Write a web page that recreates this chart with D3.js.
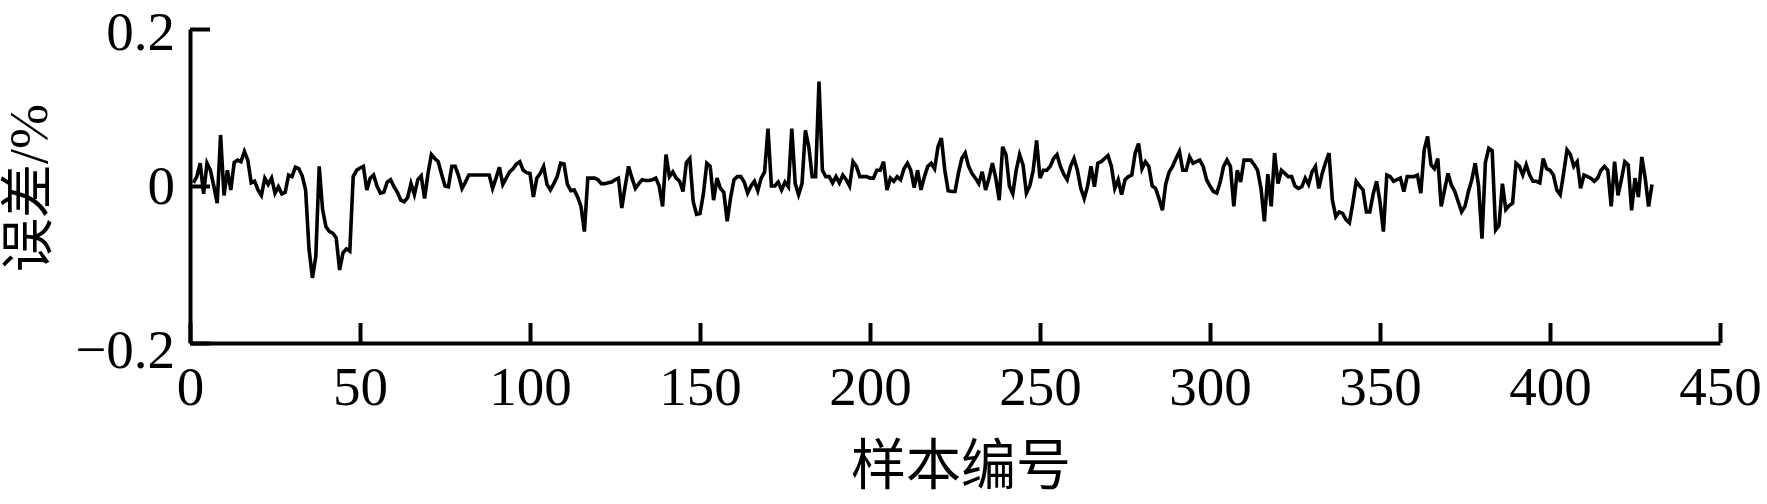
<!DOCTYPE html>
<html>
<head>
<meta charset="utf-8">
<script src="https://cdn.jsdelivr.net/npm/d3@7"></script>
<style>
  body { margin: 0; background: #fff; }
  svg { display: block; }
  .axis path, .axis line { stroke: #000; stroke-width: 4; }
  .axis text { font-family: "Liberation Serif", "Times New Roman", serif; font-size: 55px; fill: #000; }
  .title { font-family: "Liberation Serif", "Noto Sans CJK SC", serif; font-size: 54px; fill: #000; }
</style>
</head>
<body>
<svg id="chart"></svg>
<script>
// error (%) per sample, samples numbered 1..430
const errorValues = [
   0.004,  0.012,  0.029, -0.010,  0.029,  0.020,  0.000, -0.022,  0.065, -0.012,
   0.020, -0.005,  0.030,  0.033,  0.031,  0.044,  0.033,  0.004,  0.006, -0.005,
  -0.012,  0.010,  0.002,  0.010, -0.009, -0.001, -0.010, -0.008,  0.014,  0.012,
   0.024,  0.022,  0.013, -0.005, -0.080, -0.117, -0.090,  0.025, -0.030, -0.052,
  -0.058, -0.060, -0.066, -0.107, -0.085, -0.080, -0.083,  0.012,  0.020,  0.023,
   0.025, -0.005,  0.010,  0.014,  0.000, -0.009, -0.008,  0.005,  0.008, -0.001,
  -0.008, -0.018, -0.020, -0.015,  0.003, -0.011,  0.008,  0.013, -0.016,  0.016,
   0.040,  0.035,  0.031,  0.015,  0.000, -0.001,  0.025,  0.025,  0.013, -0.003,
   0.005,  0.014,  0.014,  0.014,  0.014,  0.014,  0.014,  0.014, -0.003,  0.010,
   0.024,  0.002,  0.010,  0.018,  0.022,  0.028,  0.031,  0.020,  0.017,  0.016,
  -0.014,  0.010,  0.016,  0.025,  0.002, -0.005,  0.003,  0.012,  0.029,  0.028,
   0.002, -0.006, -0.005, -0.014, -0.026, -0.058,  0.010,  0.010,  0.010,  0.008,
   0.003,  0.003,  0.004,  0.005,  0.008,  0.010, -0.028,  0.000,  0.025,  0.010,
  -0.003,  0.003,  0.008,  0.007,  0.007,  0.008,  0.010,  0.000, -0.026,  0.040,
   0.012,  0.018,  0.010,  0.006, -0.007,  0.030,  0.035, -0.020, -0.036, -0.035,
  -0.010,  0.029,  0.025, -0.018,  0.010, -0.003, -0.008, -0.045, -0.015,  0.008,
   0.012,  0.012,  0.005, -0.009,  0.000,  0.006, -0.006,  0.010,  0.018,  0.073,
   0.000,  0.000,  0.005, -0.005,  0.005, -0.001,  0.073,  0.003, -0.011,  0.003,
   0.071,  0.050,  0.012,  0.012,  0.133,  0.020,  0.012,  0.012,  0.004,  0.012,
   0.004,  0.014,  0.008,  0.000,  0.031,  0.025,  0.012,  0.012,  0.012,  0.010,
   0.010,  0.020,  0.020,  0.031, -0.005,  0.010,  0.006,  0.012,  0.008,  0.022,
   0.029,  0.020, -0.002,  0.020, -0.005,  0.012,  0.025,  0.029,  0.022,  0.050,
   0.061,  0.020, -0.006, -0.007, -0.007,  0.016,  0.035,  0.042,  0.025,  0.016,
   0.010,  0.003,  0.018, -0.005,  0.010,  0.029,  0.010, -0.018,  0.050,  0.040,
   0.000, -0.010,  0.020,  0.040,  0.027, -0.009,  0.000,  0.020,  0.058,  0.010,
   0.020,  0.020,  0.025,  0.035,  0.040,  0.025,  0.015,  0.008,  0.025,  0.035,
   0.020, -0.003, -0.016,  0.000,  0.025, -0.001,  0.029,  0.031,  0.035,  0.039,
   0.025, -0.003,  0.008, -0.011,  0.008,  0.012,  0.014,  0.042,  0.054,  0.022,
   0.031,  0.025,  0.000, -0.003, -0.016, -0.031,  0.003,  0.018,  0.025,  0.035,
   0.044,  0.020,  0.020,  0.037,  0.029,  0.031,  0.033,  0.025,  0.008,  0.000,
  -0.007, -0.009,  0.005,  0.025,  0.033,  0.025, -0.026,  0.020,  0.005,  0.033,
   0.033,  0.033,  0.027,  0.020, -0.003, -0.045,  0.015, -0.026,  0.042,  0.003,
   0.020,  0.016,  0.012,  0.012,  0.000, -0.003, -0.001,  0.010,  0.002,  0.018,
   0.025, -0.003,  0.016,  0.030,  0.042, -0.018, -0.039, -0.033, -0.035, -0.043,
  -0.047, -0.022,  0.006,  0.000, -0.005, -0.033, -0.033, -0.010,  0.006, -0.020,
  -0.058,  0.014,  0.012,  0.006,  0.008,  0.010, -0.007,  0.012,  0.012,  0.012,
   0.014, -0.009,  0.046,  0.063,  0.027,  0.022,  0.035, -0.026, -0.005,  0.016,
   0.001, -0.007, -0.020, -0.033, -0.026, -0.007,  0.008,  0.029,  0.000, -0.067,
   0.030,  0.048,  0.045, -0.056, -0.050,  0.003, -0.030, -0.025, -0.022,  0.029,
   0.025,  0.014,  0.027,  0.014,  0.006,  0.006,  0.004,  0.035,  0.022,  0.020,
   0.014, -0.005, -0.011,  0.016,  0.046,  0.040,  0.025,  0.031, -0.003,  0.014,
   0.012,  0.010,  0.006,  0.010,  0.020,  0.025,  0.020, -0.026,  0.031, -0.012,
   0.008,  0.031,  0.027, -0.031,  0.010, -0.014,  0.037,  0.010, -0.026,  0.002
];

const xTicks = [0, 50, 100, 150, 200, 250, 300, 350, 400, 450];
const yTicks = [-0.2, 0, 0.2];
const yTickLabels = ["\u22120.2", "0", "0.2"];
const xTitle = "样本编号";
const yTitle = "误差/%";

const width = 1767;
const height = 504;
const margin = { top: 29, right: 47, bottom: 161, left: 190 };
const graphWidth = width - margin.left - margin.right;
const graphHeight = height - margin.top - margin.bottom;

const svg = d3.select("#chart")
    .attr("width", width)
    .attr("height", height);

const graph = svg.append("g")
    .attr("transform", `translate(${margin.left},${margin.top})`);

const xScale = d3.scaleLinear()
    .domain([0, 450])
    .range([0, graphWidth]);

const yScale = d3.scaleLinear()
    .domain([-0.2, 0.2])
    .range([graphHeight, 0]);

const xAxis = d3.axisBottom(xScale)
    .tickValues(xTicks)
    .tickFormat(d3.format("d"))
    .tickSizeInner(-20)
    .tickSizeOuter(0)
    .tickPadding(23);

const yAxis = d3.axisLeft(yScale)
    .tickValues(yTicks)
    .tickFormat((d, i) => yTickLabels[i])
    .tickSizeInner(-20)
    .tickSizeOuter(0)
    .tickPadding(15);

const errLine = d3.line()
    .x((d, i) => xScale(i + 1))
    .y(d => yScale(d));

graph.append("path")
    .attr("d", errLine(errorValues))
    .attr("fill", "none")
    .attr("stroke", "#000")
    .attr("stroke-width", 3.6);

graph.append("g")
    .attr("class", "axis")
    .attr("transform", `translate(0,${graphHeight})`)
    .call(xAxis);

const yAxisG = graph.append("g")
    .attr("class", "axis")
    .call(yAxis);

// keep the top label inside the page, drop the bottom one a little under the axis
yAxisG.selectAll(".tick text")
    .attr("dy", d => d === 0.2 ? "0.38em" : d === -0.2 ? "0.45em" : "0.32em");

svg.append("text")
    .attr("class", "title")
    .attr("x", 961)
    .attr("y", 465)
    .attr("dy", "0.35em")
    .attr("text-anchor", "middle")
    .style("font-size", "55px")
    .text(xTitle);

svg.append("text")
    .attr("class", "title")
    .attr("transform", "translate(28,188) rotate(-90)")
    .attr("dy", "0.35em")
    .attr("text-anchor", "middle")
    .text(yTitle);
</script>
</body>
</html>
